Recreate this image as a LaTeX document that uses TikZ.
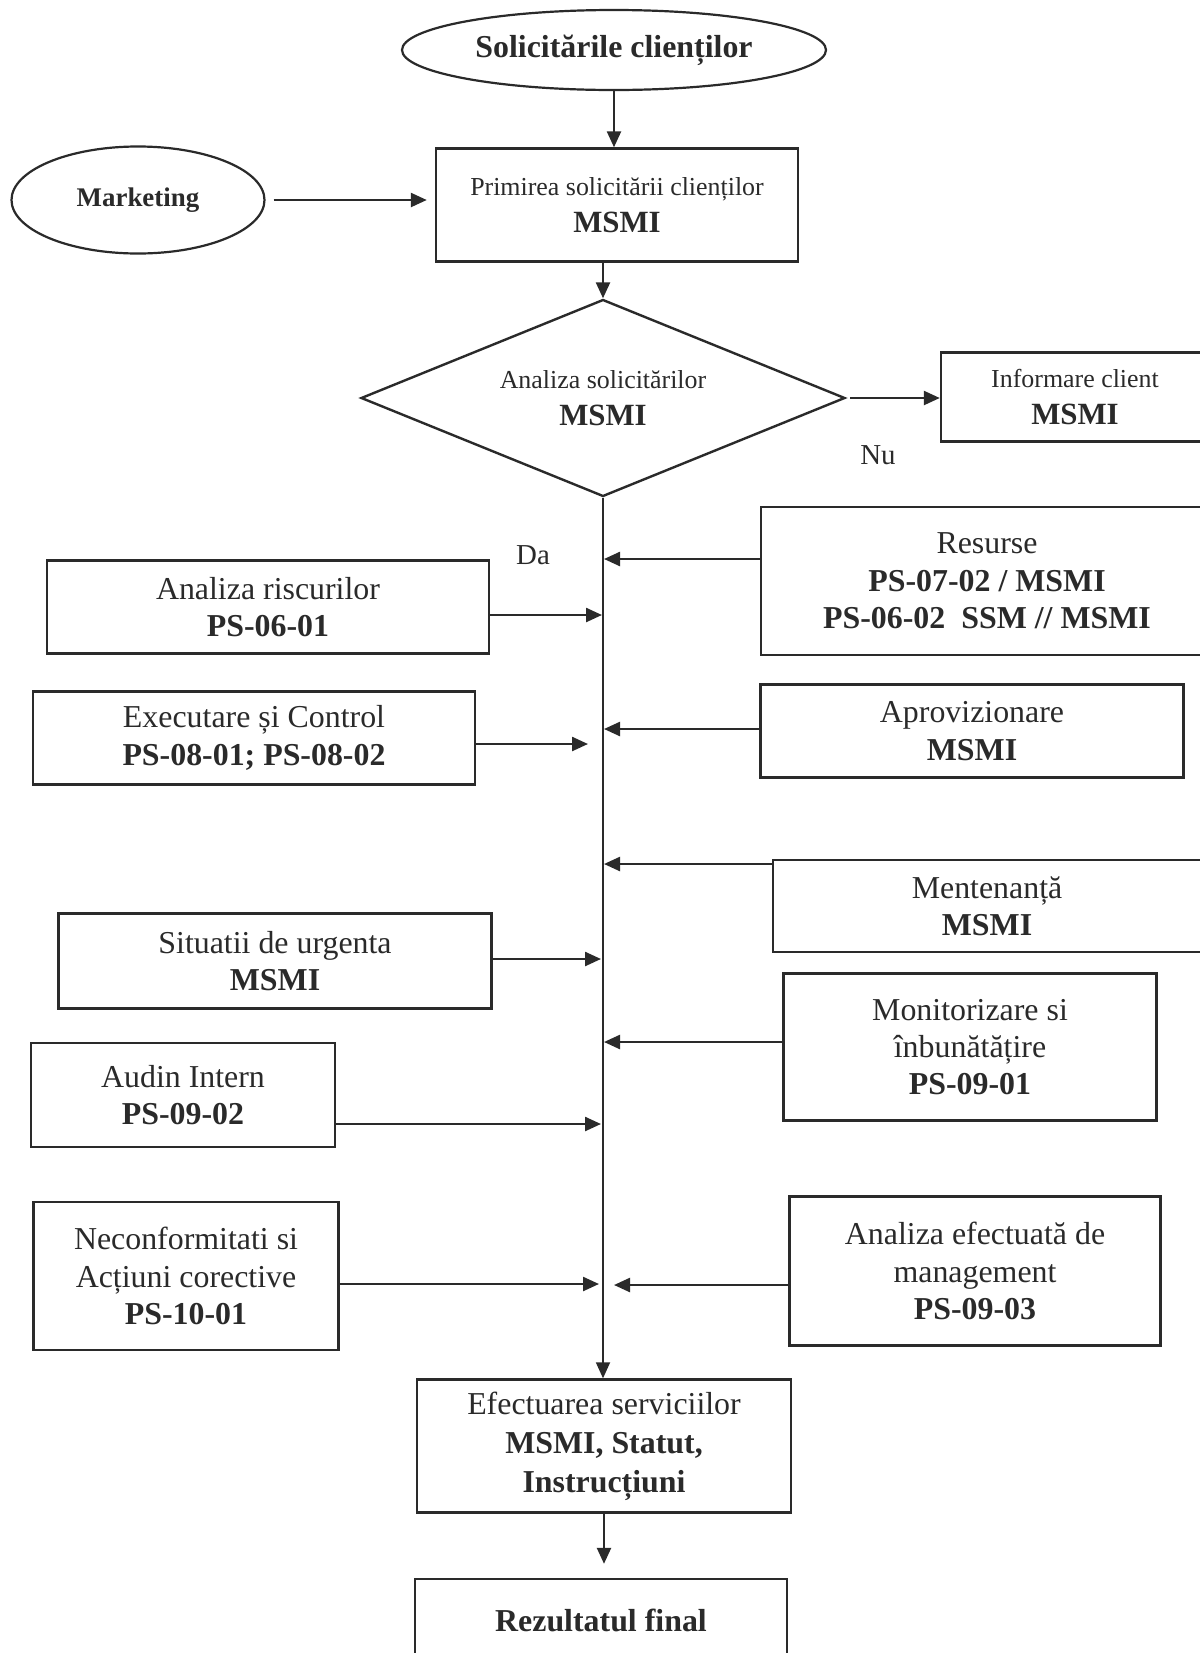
\documentclass[tikz,border=0pt]{standalone}
\usepackage{fontspec}
\setmainfont{Liberation Serif}
\usepackage{tikz}
\usetikzlibrary{arrows.meta,shapes.geometric}
\definecolor{ink}{HTML}{2A2A2A}
\definecolor{paper}{HTML}{FFFFFF}
\newcommand{\bigb}[1]{{\fontsize{15.5}{18.75}\selectfont\bfseries #1}}
\tikzset{
  box/.style={draw=ink, line width=1.2bp, rectangle, align=center, inner sep=2bp,
    text=ink, font=\fontsize{16}{18.75}\selectfont},
  smallbox/.style={box, font=\fontsize{13}{18.25}\selectfont},
  oval/.style={draw=ink, line width=1.1bp, ellipse, inner sep=0pt, text=ink,
    font=\fontsize{16}{18}\selectfont\bfseries},
  decision/.style={draw=ink, line width=1.2bp, diamond, shape aspect=2.46, inner sep=0pt,
    align=center, text=ink, font=\fontsize{13}{18.5}\selectfont},
  arr/.style={draw=ink, line width=1.2bp, -{Triangle[length=8bp,width=7bp]}},
  trunk/.style={draw=ink, line width=0.9bp, -{Triangle[length=8bp,width=7bp]}},
  lbl/.style={text=ink, font=\fontsize{14.5}{18}\selectfont}
}

\begin{document}
\begin{tikzpicture}[x=0.5bp, y=-0.5bp]
  \useasboundingbox[fill=paper] (0,0) rectangle (1200,1653);

  % top of the chart
  \node[oval, minimum width=212bp, minimum height=40bp] (sol) at (614,50) {Solicitările clienților};
  \node[oval, minimum width=126.5bp, minimum height=53.5bp, font=\fontsize{13.5}{16}\selectfont\bfseries]
    (mkt) at (138,200) {Marketing};
  \node[smallbox, minimum width=181bp, minimum height=56.5bp] (prim) at (617,205)
    {Primirea solicitării clienților\\ \bigb{MSMI}};
  \node[decision, minimum width=242bp, minimum height=98.5bp] (dec) at (603,398)
    {Analiza solicitărilor\\ \bigb{MSMI}};
  \node[smallbox, minimum width=134bp, minimum height=44.5bp] (info) at (1075,397)
    {Informare client\\ \bigb{MSMI}};
  \node[lbl] (nu) at (878,455) {Nu};
  \node[lbl] (da) at (533,555) {Da};

  % left column
  \node[box, minimum width=221bp, minimum height=46.5bp] (risc) at (268,607)
    {Analiza riscurilor\\ \textbf{PS-06-01}};
  \node[box, minimum width=221bp, minimum height=46.5bp] (exec) at (254,738)
    {Executare și Control\\ \textbf{PS-08-01; PS-08-02}};
  \node[box, minimum width=216.5bp, minimum height=47.5bp] (urg) at (275,961)
    {Situatii de urgenta\\ \textbf{MSMI}};
  \node[box, minimum width=152bp, minimum height=52bp] (aud) at (183,1095)
    {Audin Intern\\ \textbf{PS-09-02}};
  \node[box, minimum width=152.5bp, minimum height=74bp] (nec) at (186,1276)
    {Neconformitati si\\ Acțiuni corective\\ \textbf{PS-10-01}};

  % right column
  \node[box, minimum width=226bp, minimum height=74bp] (res) at (987,581)
    {Resurse\\ \textbf{PS-07-02 / MSMI}\\ \textbf{PS-06-02\ \ SSM // MSMI}};
  \node[box, minimum width=211.5bp, minimum height=46.5bp] (apr) at (972,731)
    {Aprovizionare\\ \textbf{MSMI}};
  \node[box, minimum width=214bp, minimum height=46bp] (men) at (987,906)
    {Mentenanță\\ \textbf{MSMI}};
  \node[box, minimum width=186.5bp, minimum height=73.5bp] (mon) at (970,1047)
    {Monitorizare si\\ înbunătățire\\ \textbf{PS-09-01}};
  \node[box, minimum width=185.5bp, minimum height=74.5bp] (man) at (975,1271)
    {Analiza efectuată de\\ management\\ \textbf{PS-09-03}};

  % bottom
  \node[box, minimum width=187bp, minimum height=66.5bp, font=\fontsize{16}{19.5}\selectfont] (eff) at (604,1446)
    {Efectuarea serviciilor\\ \textbf{MSMI, Statut,}\\ \textbf{Instrucțiuni}};
  \node[box, minimum width=186bp, minimum height=41bp, font=\fontsize{16}{19.5}\selectfont\bfseries] (rez) at (601,1620)
    {Rezultatul final};

  % points on the main line
  \coordinate (jRes) at (604,559);
  \coordinate (jRisc) at (602,615);
  \coordinate (jApr) at (604,729);
  \coordinate (jExec) at (588,744);
  \coordinate (jMen) at (604,864);
  \coordinate (jUrg) at (601,959);
  \coordinate (jMon) at (604,1042);
  \coordinate (jAud) at (601,1124);
  \coordinate (jNec) at (599,1284);
  \coordinate (jMan) at (614,1285);

  \draw[arr] (sol.south) -- (sol.south |- prim.north);
  \draw[arr, shorten <=4bp, shorten >=4bp] (mkt.east) -- (mkt.east -| prim.west);
  \draw[arr] (dec.north |- prim.south) -- (dec.north);
  \draw[arr, shorten <=2bp] (dec.east) -- (dec.east -| info.west);
  \draw[trunk] (dec.south) -- (dec.south |- eff.north);
  \draw[arr, shorten >=7bp] (eff.south) -- (eff.south |- rez.north);

  \draw[arr] (res.west |- jRes) -- (jRes);
  \draw[arr] (risc.east |- jRisc) -- (jRisc);
  \draw[arr] (apr.west |- jApr) -- (jApr);
  \draw[arr] (exec.east |- jExec) -- (jExec);
  \draw[arr] (men.west |- jMen) -- (jMen);
  \draw[arr] (urg.east |- jUrg) -- (jUrg);
  \draw[arr] (mon.west |- jMon) -- (jMon);
  \draw[arr] (aud.east |- jAud) -- (jAud);
  \draw[arr] (nec.east |- jNec) -- (jNec);
  \draw[arr] (man.west |- jMan) -- (jMan);
\end{tikzpicture}
\end{document}
